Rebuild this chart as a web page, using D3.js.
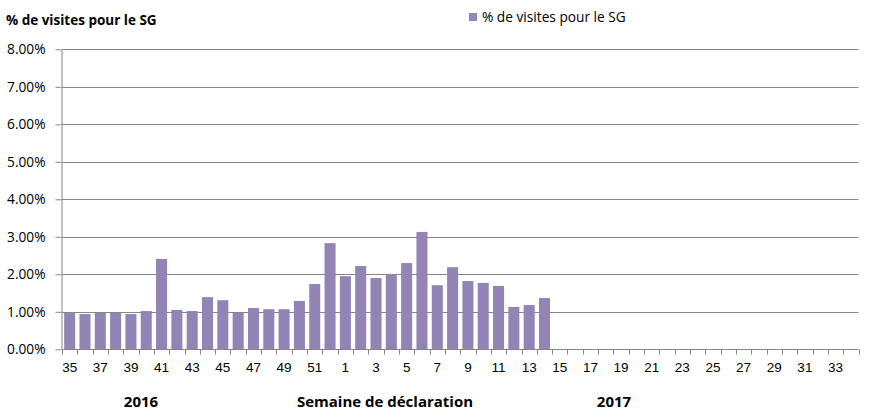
<!DOCTYPE html>
<html><head><meta charset="utf-8">
<script src="https://cdn.jsdelivr.net/npm/d3@7"></script>
<style>
body{margin:0;background:#fff;}
svg{display:block;font-family:"Open Sans","Noto Sans",sans-serif;}
</style></head>
<body><svg id="c" width="872" height="417"></svg>
<script>
const weeks = [35,36,37,38,39,40,41,42,43,44,45,46,47,48,49,50,51,52,
  1,2,3,4,5,6,7,8,9,10,11,12,13,14,15,16,17,18,19,20,21,22,23,24,25,26,27,28,29,30,31,32,33,34];
const values = [0.0097,0.0094,0.0097,0.0097,0.0094,0.0102,0.0241,0.0105,0.0102,0.0139,0.0131,0.0097,0.0110,0.0107,0.0107,0.0129,0.0174,0.0283,
  0.0195,0.0222,0.0190,0.0201,0.0230,0.0313,0.0171,0.0219,0.0182,0.0177,0.0169,0.0113,0.0118,0.0137,
  null,null,null,null,null,null,null,null,null,null,null,null,null,null,null,null,null,null,null,null];
const yTicks = [0,0.01,0.02,0.03,0.04,0.05,0.06,0.07,0.08];
const seriesName = "% de visites pour le SG";
const yTitle = "% de visites pour le SG";
const xTitle = "Semaine de déclaration";
const yearLabels = ["2016","2017"];

(function(){
const data = weeks.map((w,i)=>({key:i, week:w, value:values[i]}));
const svg = d3.select("#c");
const mLeft = 62, mRight = 858.5, mTop = 49.3, mBottom = 349.3;
const gray = "#868686", barColor = "#9384B6";

const x = d3.scaleBand().domain(data.map(d=>d.key)).range([mLeft,mRight]).paddingInner(0.28).paddingOuter(0.14);
const y = d3.scaleLinear().domain([0,0.08]).range([mBottom,mTop]);

svg.append("g").selectAll("line").data(yTicks.filter(t=>t>0)).join("line")
  .attr("x1",mLeft).attr("x2",mRight).attr("y1",d=>Math.round(y(d))+0.5).attr("y2",d=>Math.round(y(d))+0.5)
  .attr("stroke",gray).attr("stroke-width",1);

svg.append("g").selectAll("rect").data(data.filter(d=>d.value!=null)).join("rect")
  .attr("x",d=>x(d.key)).attr("width",x.bandwidth())
  .attr("y",d=>y(d.value)).attr("height",d=>y(0)-y(d.value))
  .attr("fill",barColor);

const yAxis = svg.append("g").attr("transform",`translate(${mLeft-0.5},0)`)
  .call(d3.axisLeft(y).tickValues(yTicks).tickFormat(d3.format(".2%")).tickSize(6).tickSizeOuter(0).tickPadding(10));
yAxis.select(".domain").attr("stroke",gray);
yAxis.selectAll(".tick line").attr("stroke",gray);
yAxis.selectAll("text").attr("font-size","13.7px").attr("fill","#000").attr("font-family","Open Sans");

const xAxis = svg.append("g").attr("transform",`translate(0,${Math.round(mBottom)+0.5})`)
  .call(d3.axisBottom(x).tickSize(0).tickSizeOuter(0).tickPadding(13)
    .tickFormat(k=> (k%2===0) ? String(weeks[k]) : ""));
xAxis.select(".domain").attr("stroke",gray).attr("d",`M${mLeft},0H${mRight}`);
xAxis.selectAll("text").attr("font-size","13.5px").attr("fill","#000");
const step = (mRight-mLeft)/weeks.length;
xAxis.append("g").selectAll("line").data(d3.range(weeks.length+1)).join("line")
  .attr("x1",i=>Math.round(mLeft+i*step)+0.5)
  .attr("x2",i=>Math.round(mLeft+i*step)+0.5)
  .attr("y1",0).attr("y2",5).attr("stroke",gray);

svg.append("text").attr("x",6).attr("y",25).attr("font-size","13.5px").attr("font-weight","bold").text(yTitle);
svg.append("text").attr("x",385).attr("y",407).attr("text-anchor","middle").attr("font-size","15px").attr("font-weight","bold").text(xTitle);
svg.append("text").attr("x",141).attr("y",407).attr("text-anchor","middle").attr("font-size","15px").attr("font-weight","bold").text(yearLabels[0]);
svg.append("text").attr("x",614).attr("y",407).attr("text-anchor","middle").attr("font-size","15px").attr("font-weight","bold").text(yearLabels[1]);

svg.append("rect").attr("x",469).attr("y",13).attr("width",8).attr("height",8).attr("fill",barColor);
svg.append("text").attr("x",482).attr("y",22).attr("font-size","13.7px").text(seriesName);
})();
</script></body></html>
